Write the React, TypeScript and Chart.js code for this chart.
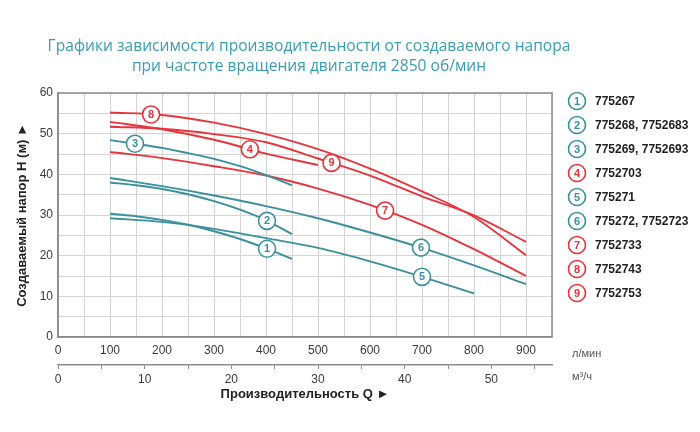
import React, { useEffect, useRef } from 'react';
import { Chart, registerables } from 'chart.js';

Chart.register(...registerables);

// ---- data ----
const titleLines = [
  'Графики зависимости производительности от создаваемого напора',
  'при частоте вращения двигателя 2850 об/мин',
];
const yTitle = 'Создаваемый напор H (м) ►';
const xTitle = 'Производительность Q ►';
const unitFlow = 'л/мин';
const unitVolume = 'м³/ч';

const curveNumbers = ['1', '2', '3', '4', '5', '6', '7', '8', '9'];
const legendLabels = [
  '775267',
  '775268, 7752683',
  '775269, 7752693',
  '7752703',
  '775271',
  '775272, 7752723',
  '7752733',
  '7752743',
  '7752753',
];
const curveKinds = ['teal', 'teal', 'teal', 'red', 'teal', 'teal', 'red', 'red', 'red'];

const q1 = [100, 150, 200, 250, 300, 350, 400, 450];
const h1 = [30.3, 29.7, 28.8, 27.6, 26.0, 24.1, 21.8, 19.2];
const q2 = [100, 150, 200, 250, 300, 350, 400, 450];
const h2 = [38.0, 37.3, 36.4, 35.1, 33.4, 31.3, 28.7, 25.3];
const q3 = [100, 150, 200, 250, 300, 350, 400, 450];
const h3 = [48.4, 47.5, 46.5, 45.2, 43.8, 42.0, 39.8, 37.3];
const q4 = [100, 200, 300, 400, 500];
const h4 = [52.9, 51.1, 48.5, 45.1, 42.3];
const q5 = [100, 200, 300, 400, 500, 600, 700, 800];
const h5 = [29.2, 28.3, 26.6, 24.3, 21.9, 18.6, 14.8, 10.7];
const q6 = [100, 200, 300, 400, 500, 600, 700, 800, 900];
const h6 = [39.1, 37.1, 34.8, 32.2, 29.2, 25.7, 21.9, 17.6, 13.0];
const q7 = [100, 200, 300, 400, 500, 600, 700, 800, 900];
const h7 = [45.5, 44.0, 42.0, 39.7, 36.5, 32.5, 27.6, 21.6, 15.0];
const q8 = [100, 200, 300, 400, 500, 600, 700, 800, 900];
const h8 = [55.2, 54.6, 52.7, 49.9, 46.2, 41.4, 35.8, 29.5, 20.1];
const q9 = [100, 200, 300, 400, 500, 600, 700, 800, 900];
const h9 = [51.7, 51.2, 49.9, 47.9, 43.9, 39.7, 34.6, 29.9, 23.4];

const flowValues = [q1, q2, q3, q4, q5, q6, q7, q8, q9];
const headValues = [h1, h2, h3, h4, h5, h6, h7, h8, h9];
// flow (l/min) at which each circled number sits on its curve
const labelFlow = [402, 402, 148, 369, 700, 698, 629, 179, 526];

const flowMax = 950; // l/min
const headMax = 60; // m
const litresPerMinPerM3h = 1000 / 60;

// ---- styles ----
const TEAL = '#3a909e';
const RED = '#e6343c';
const TITLE_COLOR = '#3a9db2';
const GRID = '#d4d4d4';
const FRAME = '#8c8c8c';
const SANS = '"Liberation Sans", Arial, sans-serif';

const colorOf = (k: string) => (k === 'teal' ? TEAL : RED);

function headAt(qs: number[], hs: number[], q: number) {
  for (let i = 0; i < qs.length - 1; i++) {
    if (q >= qs[i] && q <= qs[i + 1]) {
      const t = (q - qs[i]) / (qs[i + 1] - qs[i]);
      return hs[i] + t * (hs[i + 1] - hs[i]);
    }
  }
  return hs[hs.length - 1];
}

function drawBadge(ctx: CanvasRenderingContext2D, x: number, y: number, text: string, color: string) {
  ctx.save();
  ctx.beginPath();
  ctx.arc(x, y, 8.5, 0, Math.PI * 2);
  ctx.fillStyle = '#ffffff';
  ctx.fill();
  ctx.lineWidth = 1.6;
  ctx.strokeStyle = color;
  ctx.stroke();
  ctx.fillStyle = color;
  ctx.font = `bold 11px ${SANS}`;
  ctx.textAlign = 'center';
  ctx.textBaseline = 'middle';
  ctx.fillText(text, x, y + 0.5);
  ctx.restore();
}

const titlePlugin = {
  id: 'topTitle',
  afterDraw(chart: any) {
    const { ctx, chartArea: a } = chart;
    const cx = (a.left + a.right) / 2 + 4;
    ctx.save();
    ctx.fillStyle = TITLE_COLOR;
    ctx.font = '15.6px "Open Sans", sans-serif';
    ctx.textAlign = 'center';
    ctx.textBaseline = 'middle';
    titleLines.forEach((line, i) => ctx.fillText(line, cx, a.top - 46 + i * 20));
    ctx.restore();
  },
};

const framePlugin = {
  id: 'frame',
  afterDatasetsDraw(chart: any) {
    const { ctx, chartArea: a } = chart;
    ctx.save();
    ctx.strokeStyle = FRAME;
    ctx.lineWidth = 1.5;
    ctx.strokeRect(a.left, a.top, a.right - a.left, a.bottom - a.top);
    ctx.restore();
  },
};

const badgePlugin = {
  id: 'badges',
  afterDatasetsDraw(chart: any) {
    const { ctx } = chart;
    const xs = chart.scales.x;
    const ys = chart.scales.y;
    labelFlow.forEach((q, i) => {
      const h = headAt(flowValues[i], headValues[i], q);
      drawBadge(ctx, xs.getPixelForValue(q), ys.getPixelForValue(h), curveNumbers[i], colorOf(curveKinds[i]));
    });
  },
};

const sideLegendPlugin = {
  id: 'sideLegend',
  afterDraw(chart: any) {
    const { ctx, chartArea: a } = chart;
    legendLabels.forEach((lab, i) => {
      const y = a.top + 8 + i * 24;
      drawBadge(ctx, a.right + 25, y, curveNumbers[i], colorOf(curveKinds[i]));
      ctx.save();
      ctx.fillStyle = '#1e1e1e';
      ctx.font = `bold 12px ${SANS}`;
      ctx.textAlign = 'left';
      ctx.textBaseline = 'middle';
      ctx.fillText(lab, a.right + 43, y + 0.5);
      ctx.restore();
    });
  },
};

const unitsPlugin = {
  id: 'units',
  afterDraw(chart: any) {
    const { ctx, chartArea: a } = chart;
    ctx.save();
    ctx.fillStyle = '#555';
    ctx.font = `11px ${SANS}`;
    ctx.textAlign = 'left';
    ctx.textBaseline = 'middle';
    ctx.fillText(unitFlow, a.right + 20, a.bottom + 17);
    ctx.fillText(unitVolume, a.right + 20, a.bottom + 40);
    ctx.restore();
  },
};

export default function App() {
  const ref = useRef<HTMLCanvasElement | null>(null);

  useEffect(() => {
    if (!ref.current) return;
    const datasets = flowValues.map((qs, i) => ({
      label: legendLabels[i],
      data: qs.map((q, j) => ({ x: q, y: headValues[i][j] })),
      borderColor: colorOf(curveKinds[i]),
      backgroundColor: colorOf(curveKinds[i]),
      borderWidth: 1.9,
      pointRadius: 0,
      cubicInterpolationMode: 'monotone' as const,
      fill: false,
      xAxisID: 'x',
      yAxisID: 'y',
    }));

    const chart = new Chart(ref.current, {
      type: 'line',
      data: { datasets },
      plugins: [framePlugin, badgePlugin, sideLegendPlugin, unitsPlugin, titlePlugin],
      options: {
        animation: false,
        responsive: false,
        maintainAspectRatio: false,
        layout: { padding: { left: 0, right: 148, top: 93, bottom: 20 } },
        plugins: {
          legend: { display: false },
          tooltip: { enabled: false },
          title: { display: false },
        },
        scales: {
          x: {
            type: 'linear',
            position: 'bottom',
            weight: 0,
            min: 0,
            max: flowMax,
            ticks: {
              stepSize: 50,
              autoSkip: false,
              maxRotation: 0,
              padding: 6,
              color: '#3a3a3a',
              font: { family: SANS, size: 12 },
              callback: (v: any) => (Number(v) % 100 === 0 ? String(v) : ''),
            },
            grid: { color: GRID, lineWidth: 1, drawTicks: false },
            border: { color: FRAME, width: 1.5 },
            afterFit: (s: any) => {
              s.height = 28;
            },
          },
          x2: {
            type: 'linear',
            position: 'bottom',
            weight: 1,
            min: 0,
            max: flowMax / litresPerMinPerM3h,
            ticks: {
              stepSize: 5,
              includeBounds: false,
              autoSkip: false,
              maxRotation: 0,
              padding: 3,
              color: '#3a3a3a',
              font: { family: SANS, size: 12 },
              callback: (v: any) => (Number(v) % 10 === 0 ? String(v) : ''),
            },
            grid: { drawOnChartArea: false, drawTicks: true, tickLength: 4, color: FRAME, lineWidth: 1 },
            border: { display: true, color: FRAME, width: 1.5 },
            title: {
              display: true,
              text: xTitle,
              color: '#222',
              font: { family: SANS, size: 13, weight: 'bold' },
              padding: { top: 4, bottom: 10 },
            },
            afterFit: (s: any) => {
              s.height = 47;
            },
          },
          y: {
            type: 'linear',
            min: 0,
            max: headMax,
            ticks: {
              stepSize: 5,
              padding: 5,
              color: '#3a3a3a',
              font: { family: SANS, size: 12 },
              callback: (v: any) => (Number(v) % 10 === 0 ? String(v) : ''),
            },
            grid: { color: GRID, lineWidth: 1, drawTicks: false },
            border: { color: FRAME, width: 1.5 },
            title: {
              display: true,
              text: yTitle,
              color: '#222',
              font: { family: SANS, size: 13, weight: 'bold' },
              padding: { top: 15, bottom: 0 },
            },
            afterFit: (s: any) => {
              s.width = 58;
            },
          },
        },
      },
    } as any);
    return () => chart.destroy();
  }, []);

  return (
    <div style={{ position: 'absolute', left: 0, top: 0, width: 700, height: 432, background: '#fff' }}>
      <canvas ref={ref} width={700} height={432} style={{ display: 'block' }} />
    </div>
  );
}
